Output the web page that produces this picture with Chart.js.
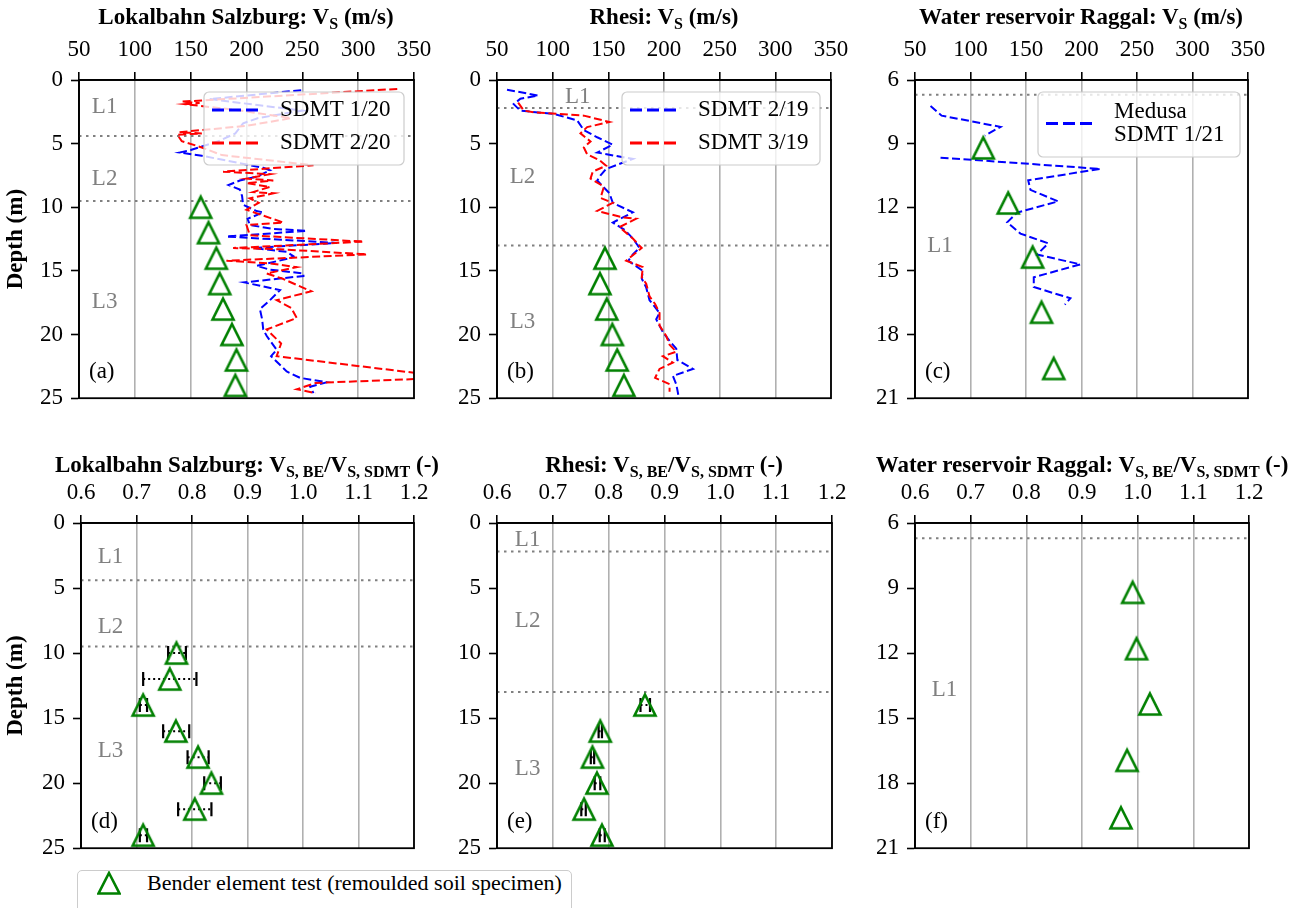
<!DOCTYPE html>
<html><head><meta charset="utf-8">
<script src="https://cdn.jsdelivr.net/npm/chart.js@4/dist/chart.umd.min.js"></script>
<style>
body{margin:0;background:#fff;width:1309px;height:908px;overflow:hidden;position:relative;font-family:"Liberation Serif",serif}
canvas{position:absolute}
.t{position:absolute;font:bold 23px "Liberation Serif",serif;transform:translate(-50%,-50%);white-space:nowrap;color:#000}
.t sub{font-size:16px;vertical-align:-5px;line-height:0}
</style></head><body>
<canvas id="ca" width="440" height="420" style="left:0;top:0"></canvas>
<canvas id="cb" width="420" height="420" style="left:440px;top:0"></canvas>
<canvas id="cc" width="449" height="420" style="left:860px;top:0"></canvas>
<canvas id="cd" width="440" height="430" style="left:0;top:440px"></canvas>
<canvas id="ce" width="420" height="430" style="left:440px;top:440px"></canvas>
<canvas id="cf" width="449" height="430" style="left:860px;top:440px"></canvas>
<div class="t" style="left:246px;top:17px">Lokalbahn Salzburg: V<sub>S</sub> (m/s)</div>
<div class="t" style="left:664px;top:17px">Rhesi: V<sub>S</sub> (m/s)</div>
<div class="t" style="left:1081px;top:17px">Water reservoir Raggal: V<sub>S</sub> (m/s)</div>
<div class="t" style="left:247px;top:465px">Lokalbahn Salzburg: V<sub>S, BE</sub>/V<sub>S, SDMT</sub> (-)</div>
<div class="t" style="left:664px;top:465px">Rhesi: V<sub>S, BE</sub>/V<sub>S, SDMT</sub> (-)</div>
<div class="t" style="left:1082px;top:465px">Water reservoir Raggal: V<sub>S, BE</sub>/V<sub>S, SDMT</sub> (-)</div>
<div style="position:absolute;left:77px;top:870px;width:495px;height:50px;border:1.5px solid #ccc;border-radius:5px;box-sizing:border-box;background:#fff">
<svg style="position:absolute;left:19px;top:0px" width="24" height="24"><path d="M12 2 L22.5 22.5 L1.5 22.5 Z" fill="none" stroke="#008000" stroke-width="2.6"/></svg>
<span style="position:absolute;left:69px;top:11.5px;transform:translateY(-50%);font:22px 'Liberation Serif',serif;white-space:nowrap">Bender element test (remoulded soil specimen)</span>
</div>
<script>
// ---------- tick labels ----------
const vsTicks=[50,100,150,200,250,300,350];
const ratioTicks=[0.6,0.7,0.8,0.9,1.0,1.1,1.2];
const depthTicks=[0,5,10,15,20,25];
const depthTicksRaggal=[6,9,12,15,18,21];

// ---------- Lokalbahn Salzburg ----------
const lsLayers=[4.4,9.5];
const lsDepthBE=[10,12,14,16,18,20,22,24];
const lsVsBE=[159,166,173,176,179,187,191,190];
const lsRatio=[0.772,0.760,0.712,0.771,0.811,0.835,0.805,0.712];
const lsRatioLo=[0.757,0.712,0.706,0.748,0.792,0.822,0.775,0.706];
const lsRatioHi=[0.789,0.808,0.719,0.795,0.830,0.852,0.835,0.719];
const sdmt120Depth=[0.8,1.5,1.7,2.4,3.0,3.4,4.2,4.8,5.5,5.7,5.95,6.9,7.1,7.6,7.9,8.25,8.6,9.1,9.8,10.3,10.4,10.9,11.4,11.7,11.85,12.3,12.8,13.2,13.5,13.85,14.0,14.6,14.9,15.2,15.4,15.9,16.5,17.3,18.0,18.8,19.6,20.1,21.2,21.7,22.9,23.4,23.75,24.1,24.6];
const sdmt120Vs=[249,167,185,250,210,197,190,175,150,140,160,215,221,209,194,184,194,196,197,209,215,201,203,224,254,182,281,206,236,242,239,209,221,251,251,198,230,221,212,214,215,218,227,222,236,248,272,257,260];
const sdmt220Depth=[0.7,1.7,1.8,1.9,2.4,3.0,3.6,4.1,4.2,4.3,4.8,5.3,5.9,6.7,7.2,7.4,7.75,7.9,8.1,8.4,8.8,8.9,9.3,9.65,10.2,10.5,11.2,11.4,12.2,12.7,13.2,13.3,13.7,14.2,14.4,14.7,15.2,15.6,16.6,17.3,17.9,18.7,19.6,20.7,21.7,23.0,23.5,23.8,24.3,24.6];
const sdmt220Vs=[335,142,158,145,195,240,200,140,160,138,142,160,178,260,179,221,200,224,200,221,206,224,203,211,200,210,233,200,203,305,188,230,308,182,220,245,218,232,258,227,240,245,218,231,227,350,350,262,245,262];

// ---------- Rhesi ----------
const rhLayers=[2.2,13.0];
const rhDepthBE=[14,16,18,20,22,24];
const rhVsBE=[147,142.5,148.6,153.6,158,164];
const rhRatio=[0.865,0.785,0.771,0.779,0.756,0.788];
const rhRatioLo=[0.857,0.782,0.768,0.775,0.751,0.784];
const rhRatioHi=[0.874,0.788,0.774,0.785,0.759,0.793];
const sdmt219Depth=[0.76,1.22,1.47,1.9,2.41,2.67,3.17,3.94,4.5,5.08,5.7,6.2,6.99,7.5,7.9,8.9,9.65,10.4,11.2,11.8,12.45,13.2,13.7,14.2,15.0,15.6,16.3,17.3,18.3,18.8,19.8,20.5,21.1,22.0,22.7,23.25,23.9,24.8];
const sdmt219Vs=[59,87,71,65,71,101,122,128,140,154,140,172,148,143,140,151,154,172,154,165,172,178,172,168,181,180,184,187,196,193,199,205,211,212,226,208,211,213];
const sdmt319Depth=[1.78,2.4,2.54,2.8,3.3,3.7,4.19,4.83,5.3,5.84,6.3,6.73,7.2,7.75,8.38,9.27,9.65,10.29,10.8,10.9,11.56,12.45,13.2,14.2,14.7,15.5,16.0,17.0,17.6,18.3,19.3,20.1,20.8,21.35,21.7,22.2,22.7,23.4,23.9,24.5];
const sdmt319Vs=[69,74,83,128,151,131,125,134,128,131,142,148,136,134,146,143,154,140,163,175,160,172,180,166,181,180,184,187,192,196,196,202,205,211,199,208,196,192,205,205];

// ---------- Water reservoir Raggal ----------
const rgLayers=[6.7];
const rgDepthBE=[9.2,11.8,14.35,16.95,19.6];
const rgVsBE=[111.5,134,156,164,175];
const rgRatio=[0.991,0.998,1.022,0.981,0.970];
const sdmt121Depth=[7.22,7.68,8.21,8.62,9.1,9.66,10.19,10.73,11.18,11.72,12.25,12.71,13.24,13.7,14.23,14.69,15.3,15.76,16.29,16.59];
const sdmt121Vs=[64,74,127,113,null,73,217,152,154,179,142,133,145,170,160,199,157,157,190,185];

// ---------- helpers ----------
const FONT='"Liberation Serif","Times New Roman",serif';
const pts=(xs,ys)=>xs.map((x,i)=>({x:x,y:ys[i]}));
const tri=(()=>{const c=document.createElement('canvas');c.width=28;c.height=28;const g=c.getContext('2d');g.strokeStyle='#008000';g.lineWidth=2.6;g.beginPath();g.moveTo(14,3.5);g.lineTo(24.5,24.5);g.lineTo(3.5,24.5);g.closePath();g.stroke();return c;})();

function layerSets(bounds,xt){
  return bounds.map(b=>({label:'layer',data:[{x:xt[0],y:b},{x:xt[xt.length-1],y:b}],showLine:true,borderColor:'#808080',borderWidth:2,borderDash:[2.5,4.5],pointRadius:0}));
}
function lineSet(label,color,xs,ys){
  return {label:label,data:pts(xs,ys),showLine:true,borderColor:color,backgroundColor:color,borderWidth:2,borderDash:[8,3.5],pointRadius:0,tension:0,spanGaps:false};
}
function beSet(xs,ys){
  return {label:'Bender element test (remoulded soil specimen)',data:pts(xs,ys),showLine:false,pointStyle:tri,pointRadius:12,pointHoverRadius:12};
}
function errSets(lo,hi,ys){
  return ys.map((y,i)=>({label:'err',data:[{x:lo[i],y:y},{x:hi[i],y:y}],showLine:true,borderColor:'#000',borderWidth:2,borderDash:[2,3],pointStyle:'line',rotation:90,pointRadius:7,pointBorderWidth:2.2,pointBorderColor:'#000'}));
}
function framePlugin(){return {id:'frame',afterDraw(ch){const a=ch.chartArea,c=ch.ctx;c.save();c.strokeStyle='#000';c.lineWidth=1.8;c.strokeRect(a.left,a.top,a.right-a.left,a.bottom-a.top);c.restore();}};}
function annotPlugin(layers,panel){return {id:'annot',afterDatasetsDraw(ch){const c=ch.ctx,a=ch.chartArea,xs=ch.scales.x,ys=ch.scales.y;c.save();c.font='23px '+FONT;c.textBaseline='middle';c.textAlign='left';c.fillStyle='#808080';layers.forEach(L=>c.fillText(L.t,xs.getPixelForValue(L.x),ys.getPixelForValue(L.y)));c.fillStyle='#000';c.fillText(panel,a.left+10,a.bottom-26);c.restore();}};}
function legendPlugin(cfg){return {id:'boxLegend',afterDatasetsDraw(ch){
  const c=ch.ctx,a=ch.chartArea;const x0=a.right-cfg.right-cfg.w,y0=a.top+cfg.top;
  c.save();
  c.beginPath();if(c.roundRect)c.roundRect(x0,y0,cfg.w,cfg.h,5);else c.rect(x0,y0,cfg.w,cfg.h);
  c.fillStyle='rgba(255,255,255,0.8)';c.fill();c.strokeStyle='#cccccc';c.lineWidth=1.2;c.stroke();
  c.font='23px '+FONT;c.textBaseline='middle';c.textAlign='left';
  let y=y0+cfg.first;
  cfg.items.forEach(idx=>{
    const ds=ch.data.datasets[idx];const lines=ds.label.split('\n');
    const cy=y+(lines.length-1)*cfg.lineH/2;
    c.strokeStyle=ds.borderColor;c.lineWidth=3;c.setLineDash([12,5]);
    c.beginPath();c.moveTo(x0+8,cy);c.lineTo(x0+58,cy);c.stroke();c.setLineDash([]);
    c.fillStyle='#000';
    lines.forEach((t,k)=>c.fillText(t,x0+76,y+k*cfg.lineH));
    y+=(lines.length-1)*cfg.lineH+cfg.rowH;
  });
  c.restore();}};}

function scales(xt,yt,W,H,depthTitle,fmt){
  const f={family:FONT,size:23};
  return {
    x:{type:'linear',position:'top',min:xt[0],max:xt[xt.length-1],
      afterBuildTicks:s=>{s.ticks=xt.map(v=>({value:v}));},
      ticks:{font:f,color:'#000',padding:8,maxRotation:0,autoSkip:false,callback:fmt},
      grid:{color:'#b0b0b0',lineWidth:1.6,tickColor:'#000',tickLength:8,tickWidth:1.6},
      border:{display:true,color:'#000',width:1.8},
      afterFit:s=>{s.height=H;}},
    y:{type:'linear',position:'left',reverse:true,min:yt[0],max:yt[yt.length-1],
      afterBuildTicks:s=>{s.ticks=yt.map(v=>({value:v}));},
      ticks:{font:f,color:'#000',padding:8,autoSkip:false,callback:v=>String(v)},
      grid:{drawOnChartArea:false,tickColor:'#000',tickLength:8,tickWidth:1.6},
      border:{display:true,color:'#000',width:1.8},
      title:{display:!!depthTitle,text:'Depth (m)',color:'#000',font:{family:FONT,size:23,weight:'bold'},padding:{top:2,bottom:0}},
      afterFit:s=>{s.width=W;}}
  };
}
function make(id,datasets,sc,pad,plugins){
  return new Chart(document.getElementById(id),{type:'scatter',data:{datasets:datasets},
    options:{responsive:false,animation:false,devicePixelRatio:1,layout:{padding:pad},
      plugins:{legend:{display:false},tooltip:{enabled:false}},scales:sc},
    plugins:plugins});
}
const fmtVs=v=>String(v), fmtR=v=>Number(v).toFixed(1);

// (a)
{
  const ds=[beSet(lsVsBE,lsDepthBE),lineSet('SDMT 2/20','#ff0000',sdmt220Vs,sdmt220Depth),lineSet('SDMT 1/20','#0000ff',sdmt120Vs,sdmt120Depth),...layerSets(lsLayers,vsTicks)];
  make('ca',ds,scales(vsTicks,depthTicks,79,80,true,fmtVs),{left:0,top:0,right:26,bottom:12},
    [framePlugin(),annotPlugin([{t:'L1',x:61.5,y:2.1},{t:'L2',x:61.5,y:7.8},{t:'L3',x:61.5,y:17.4}],'(a)'),legendPlugin({w:200,h:73,right:10,top:12,first:18,rowH:33,lineH:23,items:[2,1]})]);
}
// (b)
{
  const ds=[beSet(rhVsBE,rhDepthBE),lineSet('SDMT 3/19','#ff0000',sdmt319Vs,sdmt319Depth),lineSet('SDMT 2/19','#0000ff',sdmt219Vs,sdmt219Depth),...layerSets(rhLayers,vsTicks)];
  make('cb',ds,scales(vsTicks,depthTicks,57,80,false,fmtVs),{left:0,top:0,right:29,bottom:12},
    [framePlugin(),annotPlugin([{t:'L1',x:111,y:1.3},{t:'L2',x:61.5,y:7.6},{t:'L3',x:61.5,y:19.0}],'(b)'),legendPlugin({w:198,h:73,right:11,top:12,first:18,rowH:33,lineH:23,items:[2,1]})]);
}
// (c)
{
  const ds=[beSet(rgVsBE,rgDepthBE),lineSet('Medusa\nSDMT 1/21','#0000ff',sdmt121Vs,sdmt121Depth),...layerSets(rgLayers,vsTicks)];
  make('cc',ds,scales(vsTicks,depthTicksRaggal,55,80,false,fmtVs),{left:0,top:0,right:61,bottom:12},
    [framePlugin(),annotPlugin([{t:'L1',x:61,y:13.8}],'(c)'),legendPlugin({w:202,h:65,right:8,top:12,first:20,rowH:33,lineH:23,items:[1]})]);
}
// (d)
{
  const ds=[beSet(lsRatio,lsDepthBE),...errSets(lsRatioLo,lsRatioHi,lsDepthBE),...layerSets(lsLayers,ratioTicks)];
  make('cd',ds,scales(ratioTicks,depthTicks,81,83,true,fmtR),{left:0,top:0,right:26,bottom:18},
    [framePlugin(),annotPlugin([{t:'L1',x:0.63,y:2.6},{t:'L2',x:0.63,y:8.0},{t:'L3',x:0.63,y:17.5}],'(d)')]);
}
// (e)
{
  const ds=[beSet(rhRatio,rhDepthBE),...errSets(rhRatioLo,rhRatioHi,rhDepthBE),...layerSets(rhLayers,ratioTicks)];
  make('ce',ds,scales(ratioTicks,depthTicks,57,83,false,fmtR),{left:0,top:0,right:28,bottom:18},
    [framePlugin(),annotPlugin([{t:'L1',x:0.632,y:1.3},{t:'L2',x:0.632,y:7.5},{t:'L3',x:0.632,y:18.9}],'(e)')]);
}
// (f)
{
  const ds=[beSet(rgRatio,rgDepthBE),...layerSets(rgLayers,ratioTicks)];
  make('cf',ds,scales(ratioTicks,depthTicksRaggal,55,83,false,fmtR),{left:0,top:0,right:60,bottom:18},
    [framePlugin(),annotPlugin([{t:'L1',x:0.63,y:13.7}],'(f)')]);
}
</script>
</body></html>
